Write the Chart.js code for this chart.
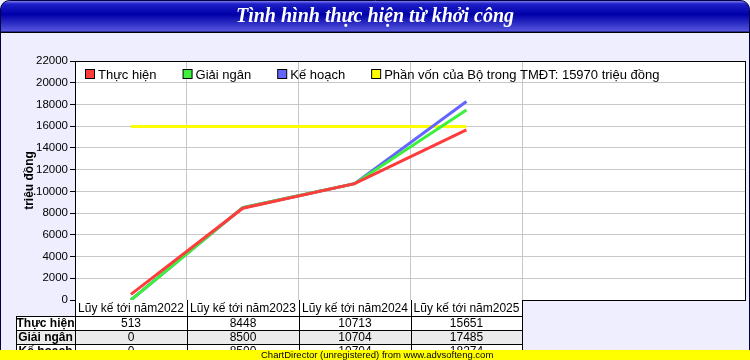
<!DOCTYPE html>
<html>
<head>
<meta charset="utf-8">
<script src="https://cdn.jsdelivr.net/npm/chart.js@4"></script>
<style>
html, body { margin: 0; padding: 0; background: #eeeeff; }
</style>
</head>
<body>
<canvas id="chart" width="750" height="360"></canvas>
<script>
// data
const categories = ['Lũy kế tới năm2022', 'Lũy kế tới năm2023', 'Lũy kế tới năm2024', 'Lũy kế tới năm2025', '', ''];
const thucHien = [513, 8448, 10713, 15651];
const giaiNgan = [0, 8500, 10704, 17485];
const keHoach = [0, 8500, 10704, 18274];
const phanVonBo = [15970, 15970, 15970, 15970];
const yMax = 22000;
const yStep = 2000;

const FONT = 'Liberation Sans, Arial, sans-serif';

// background, title bar, legend, table
const backdrop = {
    id: 'backdrop',
    beforeDraw(chart) {
        const ctx = chart.ctx;
        const a = chart.chartArea;
        ctx.save();
        ctx.fillStyle = '#eeeeff';
        ctx.fillRect(0, 0, 750, 360);

        // title bar with rounded top corners
        const g = ctx.createLinearGradient(0, 0, 0, 32);
        g.addColorStop(0, '#a0a0ff');
        g.addColorStop(0.12, '#2020c8');
        g.addColorStop(0.45, '#0000a8');
        g.addColorStop(1, '#5858e0');
        ctx.beginPath();
        ctx.moveTo(0.5, 32);
        ctx.lineTo(0.5, 9);
        ctx.arcTo(0.5, 0.5, 9, 0.5, 9);
        ctx.lineTo(741, 0.5);
        ctx.arcTo(749.5, 0.5, 749.5, 9, 9);
        ctx.lineTo(749.5, 32);
        ctx.closePath();
        ctx.fillStyle = g;
        ctx.fill();
        ctx.strokeStyle = '#000040';
        ctx.lineWidth = 1;
        ctx.stroke();

        ctx.fillStyle = '#ffffff';
        ctx.font = 'italic bold 20px "Liberation Serif", "Times New Roman", serif';
        ctx.textAlign = 'center';
        ctx.textBaseline = 'middle';
        ctx.fillText('Tình hình thực hiện từ khởi công', 375, 17);

        // plot background
        ctx.fillStyle = '#ffffff';
        ctx.fillRect(a.left, a.top, a.right - a.left, a.bottom - a.top);
        ctx.restore();
    },
    afterDraw(chart) {
        const ctx = chart.ctx;
        const a = chart.chartArea;
        const xs = chart.scales.x;
        ctx.save();

        // plot border
        ctx.strokeStyle = '#000';
        ctx.lineWidth = 1;
        ctx.strokeRect(a.left + 0.5, a.top + 0.5, a.right - a.left - 1, a.bottom - a.top);

        // legend inside plot
        ctx.font = '13px ' + FONT;
        ctx.textBaseline = 'middle';
        ctx.textAlign = 'left';
        let lx = a.left + 10;
        const ly = a.top + 13;
        chart.data.datasets.forEach(ds => {
            ctx.fillStyle = ds.borderColor;
            ctx.fillRect(lx + 0.5, ly - 4.5, 9, 9);
            ctx.strokeStyle = '#000';
            ctx.strokeRect(lx + 0.5, ly - 4.5, 9, 9);
            ctx.fillStyle = '#000';
            ctx.fillText(ds.label, lx + 13, ly + 1);
            lx += 13 + ctx.measureText(ds.label).width + 26;
        });

        // data table
        const colW = xs.getPixelForValue(1) - xs.getPixelForValue(0);
        const nCols = thucHien.length;
        const colLeft = i => Math.round(xs.getPixelForValue(i) - colW / 2);
        const tableRight = colLeft(nCols);
        const labelLeft = 16;
        const headTop = Math.round(a.bottom);
        const headH = 16;
        const rowH = 14;
        const rows = [['Thực hiện', thucHien], ['Giải ngân', giaiNgan], ['Kế hoạch', keHoach]];

        ctx.strokeStyle = '#000';
        ctx.fillStyle = '#000';
        ctx.font = '12px ' + FONT;
        ctx.textAlign = 'center';
        for (let i = 0; i < nCols; i++) {
            const x0 = colLeft(i), x1 = colLeft(i + 1);
            ctx.fillStyle = '#ffffff';
            ctx.fillRect(x0, headTop, x1 - x0, headH);
            ctx.fillStyle = '#000';
            ctx.fillText(categories[i], (x0 + x1) / 2, headTop + headH / 2 + 1);
        }

        rows.forEach((row, r) => {
            const y0 = headTop + headH + r * rowH;
            ctx.fillStyle = r === 1 ? '#ebebeb' : '#ffffff';
            ctx.fillRect(labelLeft, y0, tableRight - labelLeft, rowH);
            ctx.fillStyle = '#000';
            ctx.font = 'bold 12px ' + FONT;
            ctx.fillText(row[0], (labelLeft + a.left) / 2, y0 + rowH / 2 + 1);
            ctx.font = '12px ' + FONT;
            row[1].forEach((v, i) => {
                ctx.fillText(String(v), (colLeft(i) + colLeft(i + 1)) / 2, y0 + rowH / 2 + 1);
            });
        });

        // table lines
        ctx.beginPath();
        const tableBottom = headTop + headH + rows.length * rowH;
        for (let i = 0; i <= nCols; i++) {
            ctx.moveTo(colLeft(i) + 0.5, headTop);
            ctx.lineTo(colLeft(i) + 0.5, tableBottom);
        }
        ctx.moveTo(labelLeft + 0.5, headTop + headH);
        ctx.lineTo(labelLeft + 0.5, tableBottom);
        for (let r = 0; r <= rows.length; r++) {
            const y = headTop + headH + r * rowH + 0.5;
            ctx.moveTo(labelLeft, y);
            ctx.lineTo(tableRight + 1, y);
        }
        ctx.stroke();

        // outer frame
        ctx.strokeStyle = '#000040';
        ctx.beginPath();
        ctx.moveTo(0.5, 32);
        ctx.lineTo(0.5, 360);
        ctx.moveTo(749.5, 32);
        ctx.lineTo(749.5, 360);
        ctx.stroke();
        ctx.strokeStyle = '#000';
        ctx.beginPath();
        ctx.moveTo(0, 32.5);
        ctx.lineTo(750, 32.5);
        ctx.stroke();

        // unregistered banner
        ctx.fillStyle = '#ffff00';
        ctx.fillRect(0, 350, 750, 10);
        ctx.fillStyle = '#000';
        ctx.font = '9.5px ' + FONT;
        ctx.textAlign = 'left';
        ctx.textBaseline = 'middle';
        ctx.fillText('ChartDirector (unregistered) from www.advsofteng.com', 261, 355);
        ctx.restore();
    }
};

const ctx1 = document.getElementById('chart').getContext('2d');
const progressChart = new Chart(ctx1, {
    type: 'line',
    data: {
        labels: categories,
        datasets: [
            { label: 'Thực hiện', data: thucHien, borderColor: '#ff3c3c', backgroundColor: '#ff3c3c' },
            { label: 'Giải ngân', data: giaiNgan, borderColor: '#3cf03c', backgroundColor: '#3cf03c' },
            { label: 'Kế hoạch', data: keHoach, borderColor: '#6464ff', backgroundColor: '#6464ff' },
            { label: 'Phần vốn của Bộ trong TMĐT: 15970 triệu đồng', data: phanVonBo, borderColor: '#ffff00', backgroundColor: '#ffff00' }
        ]
    },
    options: {
        responsive: false,
        animation: false,
        devicePixelRatio: 1,
        elements: {
            line: { borderWidth: 3, tension: 0 },
            point: { radius: 0 }
        },
        layout: { padding: { top: 61, right: 4, bottom: 60, left: 0 } },
        plugins: {
            legend: { display: false },
            tooltip: { enabled: false }
        },
        scales: {
            x: {
                offset: true,
                ticks: { display: false },
                grid: {
                    offset: true,
                    drawTicks: false,
                    color: c => (c.index >= 1 && c.index <= 4) ? '#c8c8c8' : 'rgba(0,0,0,0)'
                },
                border: { display: false },
                afterFit(scale) { scale.height = 0; }
            },
            y: {
                min: 0,
                max: yMax,
                ticks: {
                    stepSize: yStep,
                    color: '#000',
                    font: { family: FONT, size: 11.5 },
                    padding: 2,
                    callback: v => String(v)
                },
                grid: { color: '#c8c8c8', tickColor: '#000', tickLength: 5 },
                border: { display: true, color: '#000' },
                title: {
                    display: true,
                    text: 'triệu đồng',
                    color: '#000',
                    font: { family: FONT, size: 12, weight: 'bold' },
                    padding: { top: 22, bottom: 0 }
                },
                afterFit(scale) { scale.width = 75; }
            }
        }
    },
    plugins: [backdrop]
});
</script>
</body>
</html>
